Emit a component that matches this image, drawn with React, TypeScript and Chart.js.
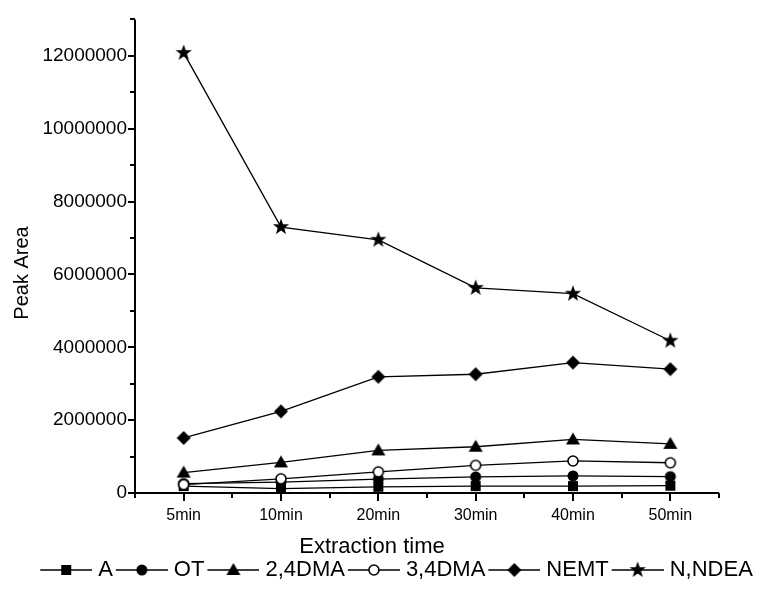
import React, { useEffect, useRef } from 'react';
import { Chart, registerables } from 'chart.js';

Chart.register(...registerables);

// ---- data ----
const categories = ['5min', '10min', '20min', '30min', '40min', '50min'];
const seriesA = [190000, 120000, 170000, 190000, 190000, 200000];
const seriesOT = [260000, 300000, 380000, 440000, 470000, 450000];
const series24DMA = [560000, 840000, 1170000, 1270000, 1470000, 1350000];
const series34DMA = [230000, 390000, 580000, 760000, 880000, 830000];
const seriesNEMT = [1510000, 2240000, 3190000, 3260000, 3580000, 3400000];
const seriesNNDEA = [12080000, 7300000, 6950000, 5630000, 5470000, 4180000];
const seriesNames = ['A', 'OT', '2,4DMA', '3,4DMA', 'NEMT', 'N,NDEA'];
const markerKinds = ['square', 'circle', 'triangle', 'openCircle', 'diamond', 'star'];
const yMin = 0;
const yMax = 13000000;
const yMajorStep = 2000000;
const yMinorStep = 1000000;
const xTitle = 'Extraction time';
const yTitle = 'Peak Area';

const FONT = "'Liberation Sans', Arial, sans-serif";
const LEGEND_BOX = 50;

function drawMarker(ctx: CanvasRenderingContext2D, kind: string, cx: number, cy: number) {
  ctx.save();
  ctx.fillStyle = '#000';
  ctx.strokeStyle = '#000';
  ctx.lineWidth = 1;
  ctx.beginPath();
  if (kind === 'square') {
    ctx.rect(cx - 5, cy - 5, 10, 10);
    ctx.fill();
  } else if (kind === 'circle') {
    ctx.arc(cx, cy, 5.5, 0, Math.PI * 2);
    ctx.fill();
  } else if (kind === 'openCircle') {
    ctx.arc(cx, cy, 5, 0, Math.PI * 2);
    ctx.fillStyle = '#fff';
    ctx.fill();
    ctx.lineWidth = 1.6;
    ctx.stroke();
  } else if (kind === 'triangle') {
    ctx.moveTo(cx, cy - 7);
    ctx.lineTo(cx + 7, cy + 5);
    ctx.lineTo(cx - 7, cy + 5);
    ctx.closePath();
    ctx.fill();
  } else if (kind === 'diamond') {
    ctx.moveTo(cx, cy - 7);
    ctx.lineTo(cx + 7, cy);
    ctx.lineTo(cx, cy + 7);
    ctx.lineTo(cx - 7, cy);
    ctx.closePath();
    ctx.fill();
  } else if (kind === 'star') {
    const outer = 8.5;
    const inner = 3.5;
    for (let i = 0; i < 10; i++) {
      const r = i % 2 === 0 ? outer : inner;
      const a = -Math.PI / 2 + (i * Math.PI) / 5;
      const px = cx + r * Math.cos(a);
      const py = cy + r * Math.sin(a);
      if (i === 0) ctx.moveTo(px, py);
      else ctx.lineTo(px, py);
    }
    ctx.closePath();
    ctx.fill();
  }
  ctx.restore();
}

function makeMarkerCanvas(kind: string) {
  const c = document.createElement('canvas');
  c.width = 20;
  c.height = 20;
  const ctx = c.getContext('2d')!;
  drawMarker(ctx, kind, 10, 10);
  return c;
}

// legend glyph: line with marker; image is centred on the legend box,
// extended 5px each side, line starts 3px after the box start
function makeLegendCanvas(kind: string) {
  const c = document.createElement('canvas');
  const w = LEGEND_BOX + 10;
  c.width = w;
  c.height = 22;
  const ctx = c.getContext('2d')!;
  ctx.strokeStyle = '#000';
  ctx.lineWidth = 1.3;
  ctx.beginPath();
  ctx.moveTo(8, 11);
  ctx.lineTo(w, 11);
  ctx.stroke();
  drawMarker(ctx, kind, (8 + w) / 2, 11);
  return c;
}

const axesPlugin = {
  id: 'refAxes',
  beforeDatasetsDraw(chart: any) {
    const { ctx, chartArea: ca, scales } = chart;
    const x = scales.x;
    const y = scales.y;
    ctx.save();
    ctx.strokeStyle = '#000';
    ctx.lineWidth = 2;
    ctx.beginPath();
    ctx.moveTo(ca.left, y.getPixelForValue(yMax));
    ctx.lineTo(ca.left, ca.bottom + 5);
    ctx.moveTo(ca.left, ca.bottom);
    ctx.lineTo(ca.right, ca.bottom);
    for (let v = yMin; v <= yMax; v += yMinorStep) {
      const py = Math.round(y.getPixelForValue(v));
      const len = v % yMajorStep === 0 ? 7 : 5;
      ctx.moveTo(ca.left, py);
      ctx.lineTo(ca.left - len, py);
    }
    const n = categories.length;
    for (let i = 0; i < n; i++) {
      const px = Math.round(x.getPixelForValue(i));
      ctx.moveTo(px, ca.bottom);
      ctx.lineTo(px, ca.bottom + 8);
    }
    for (let i = 0; i <= n; i++) {
      let px;
      if (i === 0) px = ca.left;
      else if (i === n) px = ca.right;
      else px = Math.round((x.getPixelForValue(i - 1) + x.getPixelForValue(i)) / 2);
      ctx.moveTo(px, ca.bottom);
      ctx.lineTo(px, ca.bottom + 5);
    }
    ctx.stroke();
    ctx.restore();
  },
  afterDraw(chart: any) {
    const { ctx } = chart;
    ctx.save();
    ctx.fillStyle = '#000';
    ctx.textAlign = 'center';
    ctx.textBaseline = 'middle';
    ctx.font = `22px ${FONT}`;
    ctx.fillText(xTitle, 372, 547);
    ctx.translate(22, 273);
    ctx.rotate(-Math.PI / 2);
    ctx.font = `20px ${FONT}`;
    ctx.fillText(yTitle, 0, 0);
    ctx.restore();
  },
};

export default function App() {
  const ref = useRef<HTMLCanvasElement>(null);

  useEffect(() => {
    if (!ref.current) return;
    const allSeries = [seriesA, seriesOT, series24DMA, series34DMA, seriesNEMT, seriesNNDEA];
    const drawOrder = [6, 5, 4, 2, 3, 1];
    const legendImgs = markerKinds.map((k) => makeLegendCanvas(k));
    const datasets = allSeries.map((data, i) => ({
      label: seriesNames[i],
      data,
      yAxisID: 'y',
      borderColor: '#000',
      backgroundColor: '#000',
      borderWidth: 1.3,
      pointStyle: makeMarkerCanvas(markerKinds[i]),
      pointRadius: 6,
      tension: 0,
      fill: false,
      order: drawOrder[i],
    }));

    const chart = new Chart(ref.current, {
      type: 'line',
      data: { labels: categories, datasets },
      options: {
        animation: false,
        responsive: false,
        devicePixelRatio: 1,
        layout: { padding: { top: 17, right: 0, left: 30, bottom: -2 } },
        scales: {
          x: {
            type: 'category',
            offset: true,
            grid: { display: false, drawTicks: false },
            border: { display: false },
            ticks: {
              color: '#000',
              font: { family: FONT, size: 16 },
              padding: 13,
              maxRotation: 0,
              autoSkip: false,
            },
            afterFit: (s: any) => {
              s.height = 66;
            },
          },
          y: {
            min: yMin,
            max: yMax,
            grid: { display: false, drawTicks: false },
            border: { display: false },
            ticks: {
              stepSize: yMinorStep,
              autoSkip: false,
              color: '#000',
              font: { family: FONT, size: 19 },
              padding: 8,
              callback: (v: any) => (Number(v) % yMajorStep === 0 ? String(v) : ''),
            },
            afterFit: (s: any) => {
              s.width = 105;
            },
          },
          yRight: {
            position: 'right',
            display: true,
            grid: { display: false, drawTicks: false },
            border: { display: false },
            ticks: { display: false },
            afterFit: (s: any) => {
              s.width = 41;
            },
          },
        },
        plugins: {
          legend: {
            position: 'bottom',
            labels: {
              usePointStyle: true,
              pointStyleWidth: LEGEND_BOX,
              boxHeight: 22,
              padding: 0,
              color: '#000',
              font: { family: FONT, size: 22 },
              generateLabels: () =>
                seriesNames.map((name, i) => ({
                  text: name,
                  pointStyle: legendImgs[i],
                  fillStyle: '#000',
                  strokeStyle: '#000',
                  lineWidth: 0,
                  hidden: false,
                  datasetIndex: i,
                  fontColor: '#000',
                })),
            },
          },
          tooltip: { enabled: false },
        },
      },
      plugins: [axesPlugin],
    } as any);
    return () => chart.destroy();
  }, []);

  return (
    <div style={{ position: 'fixed', left: 0, top: 0, width: 760, height: 589, background: '#fff' }}>
      <canvas ref={ref} width={760} height={589} style={{ display: 'block' }} />
    </div>
  );
}
